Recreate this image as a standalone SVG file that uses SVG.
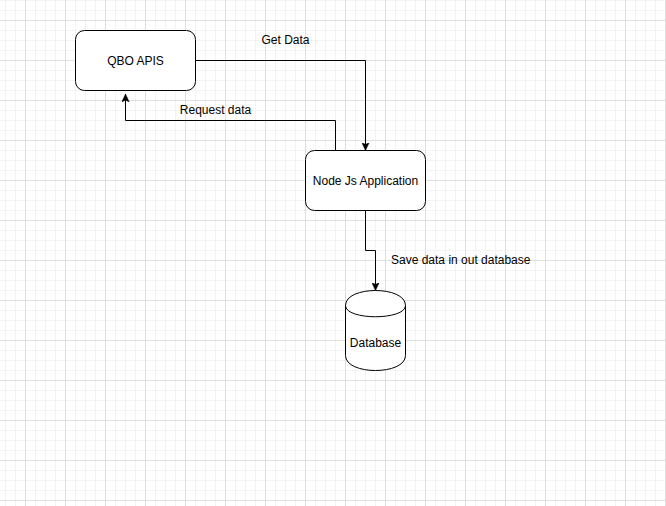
<svg xmlns="http://www.w3.org/2000/svg" width="666" height="506" viewBox="0 0 666 506">
  <style>
    .box { fill: #ffffff; stroke: #000000; stroke-width: 1; }
    .edge { fill: none; stroke: #000000; stroke-width: 1; }
    .lbl { font-family: "Liberation Sans", Arial, Helvetica, sans-serif; font-size: 12px; fill: #000000; }
    .c { text-anchor: middle; }
  </style>
  <defs>
    <pattern id="grid" x="25" y="20" width="40" height="40" patternUnits="userSpaceOnUse">
      <path d="M10.5 0V40M20.5 0V40M30.5 0V40M0 10.5H40M0 20.5H40M0 30.5H40" stroke="#f3f3f3" stroke-width="1" fill="none"/>
      <path d="M0.5 0V40M0 0.5H40" stroke="#dedede" stroke-width="1" fill="none"/>
    </pattern>
    <marker id="arrow" viewBox="0 0 8 8" refX="8" refY="4" markerWidth="8" markerHeight="8" markerUnits="userSpaceOnUse" orient="auto">
      <path d="M0 0.3 L8 4 L0 7.7 L2 4 Z" fill="#000000" stroke="#000000" stroke-width="0.5"/>
    </marker>
  </defs>
  <rect x="0" y="0" width="666" height="506" fill="#ffffff"/>
  <rect x="0" y="0" width="666" height="506" fill="url(#grid)"/>

  <g id="connectors">
    <path id="edge-get-data" class="edge" d="M195.5 60.5 H365.5 V150.5" marker-end="url(#arrow)"/>
    <path id="edge-request-data" class="edge" d="M335.5 150.5 V120.5 H125.5 V94" marker-end="url(#arrow)"/>
    <path id="edge-save" class="edge" d="M365.5 210.5 V250.5 H375.5 V290.5" marker-end="url(#arrow)"/>
    <text class="lbl c" x="285.5" y="44">Get Data</text>
    <text class="lbl c" x="215.5" y="114">Request data</text>
    <text class="lbl" x="391" y="264">Save data in out database</text>
  </g>

  <g id="qbo-apis">
    <rect class="box" x="75.5" y="30.5" width="120" height="60" rx="9" ry="9"/>
    <text class="lbl c" x="135.5" y="65">QBO APIS</text>
  </g>

  <g id="node-js-application">
    <rect class="box" x="305.5" y="150.5" width="120" height="60" rx="9" ry="9"/>
    <text class="lbl c" x="365.5" y="185">Node Js Application</text>
  </g>

  <g id="database">
    <path class="box" d="M345.5 305.5 C345.5 285.5 405.5 285.5 405.5 305.5 V355.5 C405.5 375.5 345.5 375.5 345.5 355.5 Z"/>
    <path class="edge" d="M345.5 305.5 C345.5 320.5 405.5 320.5 405.5 305.5"/>
    <text class="lbl c" x="375.5" y="347">Database</text>
  </g>
</svg>
